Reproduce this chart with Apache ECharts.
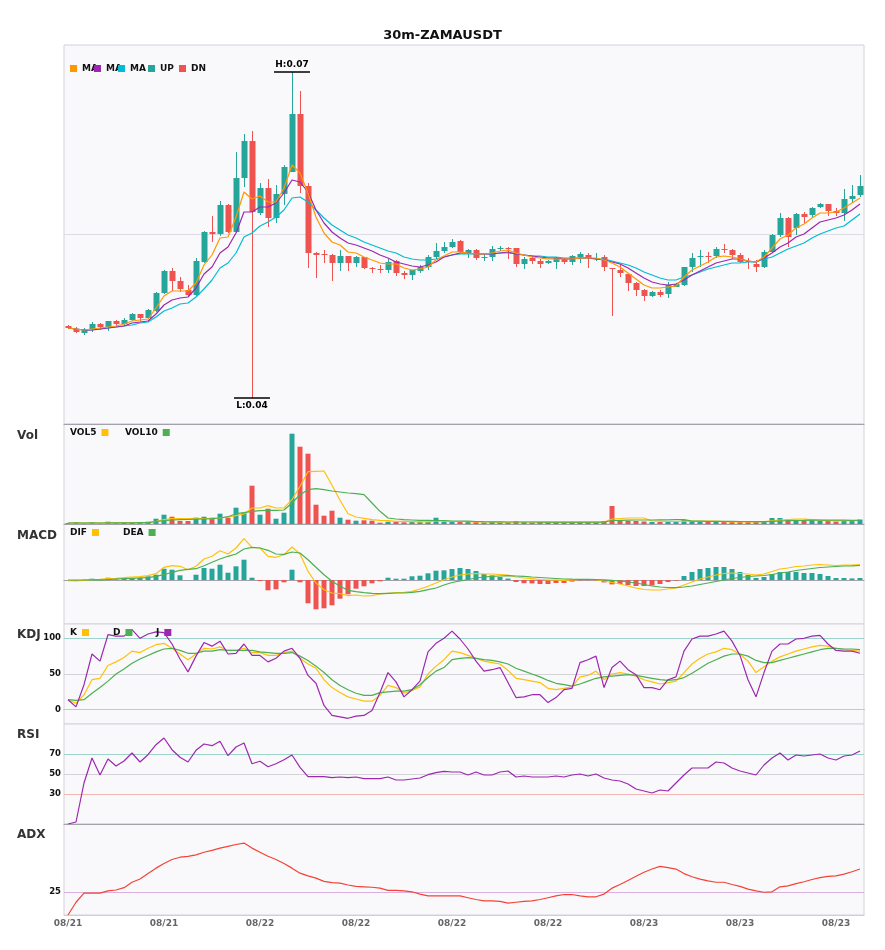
<!DOCTYPE html>
<html><head><meta charset="utf-8">
<script src="https://cdn.jsdelivr.net/npm/echarts@6/dist/echarts.min.js"></script>
<style>html,body{margin:0;padding:0;background:#fff}#c{width:885px;height:950px}</style>
</head><body><div id="c"></div>
<script>
const categories = [
'08/21 14:00','08/21 14:30','08/21 15:00','08/21 15:30','08/21 16:00','08/21 16:30','08/21 17:00','08/21 17:30','08/21 18:00','08/21 18:30',
'08/21 19:00','08/21 19:30','08/21 20:00','08/21 20:30','08/21 21:00','08/21 21:30','08/21 22:00','08/21 22:30','08/21 23:00','08/21 23:30',
'08/22 00:00','08/22 00:30','08/22 01:00','08/22 01:30','08/22 02:00','08/22 02:30','08/22 03:00','08/22 03:30','08/22 04:00','08/22 04:30',
'08/22 05:00','08/22 05:30','08/22 06:00','08/22 06:30','08/22 07:00','08/22 07:30','08/22 08:00','08/22 08:30','08/22 09:00','08/22 09:30',
'08/22 10:00','08/22 10:30','08/22 11:00','08/22 11:30','08/22 12:00','08/22 12:30','08/22 13:00','08/22 13:30','08/22 14:00','08/22 14:30',
'08/22 15:00','08/22 15:30','08/22 16:00','08/22 16:30','08/22 17:00','08/22 17:30','08/22 18:00','08/22 18:30','08/22 19:00','08/22 19:30',
'08/22 20:00','08/22 20:30','08/22 21:00','08/22 21:30','08/22 22:00','08/22 22:30','08/22 23:00','08/22 23:30','08/23 00:00','08/23 00:30',
'08/23 01:00','08/23 01:30','08/23 02:00','08/23 02:30','08/23 03:00','08/23 03:30','08/23 04:00','08/23 04:30','08/23 05:00','08/23 05:30',
'08/23 06:00','08/23 06:30','08/23 07:00','08/23 07:30','08/23 08:00','08/23 08:30','08/23 09:00','08/23 09:30','08/23 10:00','08/23 10:30',
'08/23 11:00','08/23 11:30','08/23 12:00','08/23 12:30','08/23 13:00','08/23 13:30','08/23 14:00','08/23 14:30','08/23 15:00','08/23 15:30'];

const open = [
0.0472,0.0469,0.0465,0.0469,0.0474,0.0471,0.0477,0.0474,0.0478,0.0484,
0.0480,0.0487,0.0505,0.0527,0.0517,0.0508,0.0503,0.0536,0.0566,0.0564,
0.0593,0.0566,0.0620,0.0657,0.0585,0.0610,0.0580,0.0604,0.0626,0.0684,
0.0612,0.0545,0.0544,0.0543,0.0535,0.0542,0.0535,0.0541,0.0530,0.0529,
0.0528,0.0537,0.0525,0.0523,0.0527,0.0531,0.0541,0.0547,0.0551,0.0557,
0.0545,0.0548,0.0540,0.0541,0.0549,0.0550,0.0550,0.0534,0.0540,0.0537,
0.0535,0.0536,0.0539,0.0536,0.0541,0.0543,0.0539,0.0541,0.0530,0.0528,
0.0524,0.0515,0.0508,0.0502,0.0506,0.0504,0.0511,0.0513,0.0531,0.0541,
0.0542,0.0542,0.0549,0.0548,0.0543,0.0537,0.0534,0.0531,0.0546,0.0563,
0.0580,0.0570,0.0584,0.0583,0.0591,0.0594,0.0587,0.0585,0.0599,0.0603];
const high = [
0.0473,0.0471,0.0470,0.0476,0.0475,0.0477,0.0478,0.0480,0.0485,0.0484,
0.0489,0.0506,0.0528,0.0530,0.0521,0.0513,0.0540,0.0567,0.0582,0.0597,
0.0594,0.0646,0.0664,0.0667,0.0615,0.0619,0.0613,0.0633,0.0726,0.0707,
0.0615,0.0546,0.0548,0.0544,0.0548,0.0542,0.0542,0.0541,0.0531,0.0533,
0.0539,0.0538,0.0527,0.0528,0.0533,0.0543,0.0555,0.0556,0.0559,0.0558,
0.0549,0.0549,0.0544,0.0552,0.0552,0.0551,0.0550,0.0541,0.0542,0.0539,
0.0538,0.0541,0.0540,0.0543,0.0546,0.0545,0.0545,0.0543,0.0530,0.0534,
0.0525,0.0516,0.0509,0.0507,0.0508,0.0516,0.0515,0.0531,0.0545,0.0548,
0.0546,0.0551,0.0554,0.0549,0.0545,0.0540,0.0538,0.0548,0.0564,0.0585,
0.0581,0.0585,0.0586,0.0591,0.0595,0.0594,0.0590,0.0609,0.0613,0.0623];
const low = [
0.0469,0.0465,0.0463,0.0466,0.0468,0.0467,0.0472,0.0473,0.0477,0.0477,
0.0479,0.0486,0.0504,0.0507,0.0506,0.0502,0.0502,0.0535,0.0556,0.0562,
0.0565,0.0565,0.0611,0.0400,0.0583,0.0571,0.0575,0.0593,0.0626,0.0605,
0.0530,0.0520,0.0535,0.0517,0.0527,0.0527,0.0531,0.0529,0.0525,0.0525,
0.0525,0.0522,0.0519,0.0518,0.0525,0.0528,0.0539,0.0545,0.0550,0.0545,
0.0540,0.0538,0.0537,0.0537,0.0547,0.0539,0.0531,0.0529,0.0534,0.0530,
0.0534,0.0529,0.0534,0.0533,0.0535,0.0530,0.0537,0.0527,0.0482,0.0521,
0.0507,0.0502,0.0497,0.0501,0.0501,0.0500,0.0511,0.0512,0.0526,0.0531,
0.0535,0.0540,0.0545,0.0539,0.0535,0.0529,0.0526,0.0530,0.0545,0.0561,
0.0551,0.0563,0.0575,0.0581,0.0590,0.0582,0.0582,0.0577,0.0595,0.0601];
const close = [
0.0470,0.0466,0.0469,0.0474,0.0471,0.0477,0.0474,0.0478,0.0484,0.0480,
0.0488,0.0505,0.0527,0.0517,0.0509,0.0503,0.0537,0.0566,0.0564,0.0593,
0.0566,0.0620,0.0657,0.0586,0.0610,0.0580,0.0604,0.0631,0.0684,0.0612,
0.0545,0.0543,0.0543,0.0535,0.0542,0.0535,0.0541,0.0530,0.0529,0.0528,
0.0536,0.0525,0.0523,0.0528,0.0531,0.0541,0.0547,0.0551,0.0556,0.0546,
0.0548,0.0540,0.0541,0.0549,0.0550,0.0549,0.0534,0.0539,0.0537,0.0534,
0.0537,0.0540,0.0536,0.0542,0.0544,0.0540,0.0540,0.0531,0.0529,0.0525,
0.0515,0.0508,0.0502,0.0506,0.0503,0.0513,0.0514,0.0531,0.0540,0.0542,
0.0541,0.0549,0.0548,0.0543,0.0536,0.0536,0.0531,0.0546,0.0563,0.0580,
0.0561,0.0584,0.0581,0.0590,0.0594,0.0587,0.0585,0.0599,0.0602,0.0612];

const ma5 = [
0.0470,0.0469,0.0468,0.0469,0.0470,0.0471,0.0472,0.0474,0.0477,0.0478,
0.0479,0.0490,0.0502,0.0507,0.0507,0.0507,0.0515,0.0533,0.0543,0.0560,
0.0561,0.0581,0.0606,0.0599,0.0602,0.0596,0.0596,0.0610,0.0633,0.0625,
0.0605,0.0581,0.0565,0.0556,0.0553,0.0546,0.0545,0.0541,0.0538,0.0535,
0.0534,0.0534,0.0530,0.0528,0.0529,0.0531,0.0538,0.0542,0.0546,0.0546,
0.0545,0.0544,0.0544,0.0545,0.0547,0.0548,0.0545,0.0543,0.0541,0.0540,
0.0539,0.0539,0.0539,0.0539,0.0540,0.0540,0.0540,0.0538,0.0535,0.0531,
0.0525,0.0519,0.0513,0.0510,0.0510,0.0511,0.0512,0.0521,0.0528,0.0532,
0.0536,0.0541,0.0542,0.0541,0.0539,0.0537,0.0536,0.0541,0.0550,0.0559,
0.0563,0.0570,0.0574,0.0580,0.0585,0.0585,0.0586,0.0590,0.0595,0.0600];
const ma10 = [
0.0470,0.0469,0.0468,0.0468,0.0469,0.0470,0.0471,0.0472,0.0475,0.0476,
0.0477,0.0484,0.0493,0.0498,0.0500,0.0501,0.0510,0.0524,0.0531,0.0545,
0.0551,0.0565,0.0586,0.0586,0.0591,0.0591,0.0595,0.0605,0.0618,0.0616,
0.0606,0.0588,0.0575,0.0566,0.0560,0.0555,0.0553,0.0550,0.0547,0.0543,
0.0540,0.0536,0.0534,0.0532,0.0531,0.0533,0.0536,0.0541,0.0543,0.0545,
0.0545,0.0544,0.0544,0.0544,0.0545,0.0546,0.0544,0.0543,0.0542,0.0541,
0.0540,0.0540,0.0539,0.0539,0.0540,0.0540,0.0539,0.0538,0.0536,0.0534,
0.0530,0.0525,0.0520,0.0516,0.0514,0.0513,0.0514,0.0518,0.0523,0.0527,
0.0531,0.0535,0.0537,0.0539,0.0539,0.0537,0.0536,0.0540,0.0545,0.0551,
0.0555,0.0561,0.0564,0.0570,0.0576,0.0578,0.0580,0.0583,0.0588,0.0594];
const ma20 = [
0.0470,0.0469,0.0468,0.0468,0.0469,0.0470,0.0471,0.0472,0.0473,0.0475,
0.0476,0.0481,0.0487,0.0490,0.0494,0.0495,0.0501,0.0509,0.0518,0.0530,
0.0535,0.0545,0.0561,0.0565,0.0572,0.0576,0.0581,0.0588,0.0600,0.0601,
0.0596,0.0588,0.0580,0.0573,0.0568,0.0563,0.0560,0.0556,0.0553,0.0550,
0.0547,0.0545,0.0541,0.0539,0.0538,0.0538,0.0539,0.0541,0.0543,0.0544,
0.0544,0.0544,0.0544,0.0544,0.0545,0.0545,0.0544,0.0543,0.0542,0.0542,
0.0541,0.0541,0.0540,0.0540,0.0540,0.0540,0.0539,0.0539,0.0537,0.0535,
0.0533,0.0530,0.0526,0.0523,0.0520,0.0518,0.0518,0.0521,0.0523,0.0526,
0.0529,0.0531,0.0533,0.0535,0.0535,0.0536,0.0536,0.0539,0.0541,0.0545,
0.0549,0.0552,0.0555,0.0560,0.0564,0.0567,0.0570,0.0572,0.0578,0.0584];

const volume = [
1,1.3,0.7,1.3,0.7,2.3,1,1,1.3,1,
2.3,5.3,9.3,7.3,3,3,6.3,7.3,6.3,10.3,
6.3,16.3,11.3,38.3,9.3,15.3,5.3,11.3,90.3,77.3,
70.3,19.3,8.3,13.3,6.3,4.3,3.3,3.7,3.3,1.3,
2.3,2.3,1.7,2.3,2.3,2.3,6.3,2.3,2,3,
2,2,1.5,2,1.5,1.5,3,2,1.5,2,
1.5,2,1.5,2,2,2,1.5,3,18,4,
3,3,2.5,2,2,3,2,4,3,2.5,
2,2.5,2,2,2.5,2,2,3,6,6,
5,4,3,4,3,3,2.5,4,4,4.5];
const vol5 = [
1,1.1,1,1.1,1,1.3,1.2,1.3,1.3,1.3,
1.4,2.7,4.3,5.3,5.3,5.3,5.7,5.5,5.3,6,
7,8.3,10,16,16,18.3,16,16,24.3,37.7,
52.3,52.7,53,38.7,23.7,10.3,7,5.7,4.3,3.7,
3.3,2.7,2.6,2.4,2.2,2.2,3,3.1,2.5,2.5,
2.3,2.2,2,2,1.8,1.8,2,2,2,2,
1.8,1.8,1.8,1.8,1.8,1.8,1.8,2,5,5.5,
6,6,6,3,2.8,2.5,2.5,2.8,2.8,3,
2.8,2.8,2.4,2.2,2.2,2.2,2.2,2.3,3.1,3.8,
4.4,4.8,4.8,4.4,3.8,3.4,3.1,3.3,3.3,3.6];
const vol10 = [
1,1.1,1,1.1,1,1.2,1.2,1.2,1.2,1.3,
1.4,2.5,3.3,4,4.3,4.5,4.8,5,5.3,6,
7.3,10.3,11.3,12.7,13.3,13.7,13.7,14,21,29.3,
34.3,35.3,34.3,33,32,31,30.3,29.3,21,12.7,
6,5,4.3,4,3.7,3.7,3.5,3.3,3,3,
2.8,2.5,2.3,2.2,2.1,2,2,2,2,1.9,
1.9,1.9,1.9,1.9,1.8,1.8,1.8,1.9,3.5,3.7,
3.9,4,4,4,4.1,4.2,4.3,4.4,2.9,2.8,
2.6,2.7,2.6,2.6,2.5,2.5,2.3,2.3,2.6,3,
3.3,3.5,3.6,3.8,3.8,3.9,3.9,3.9,3.6,3.6];

const dif = [
-0.7,-1,-0.3,0.3,0.7,1.3,1.7,2.3,3,3.3,
4.3,6.3,12.7,14.3,13.7,10.3,13.7,21,23.7,29.3,
26,32,41.3,32.7,32,23.7,22.7,25.3,33,26,
8.7,-3,-9.7,-13,-13.7,-15.7,-15,-16,-15.7,-14,
-13.3,-12.7,-12.3,-11.3,-9,-6.3,-3,0.3,3,5,
6,6.5,6,6,5.5,5,3,2,1.3,0.5,
0,0,-0.5,0,0.5,0.5,0.3,-1,-2.5,-4,
-6,-8,-9.5,-10,-10,-9,-8,-5,-2,1,
3,5,6.5,7,6.5,6,5,6,8.5,11,
12,13.5,14,15,15.5,15,14.5,15,15,15.5];
const dea = [
0,0,0,0.1,0.2,0.4,1,1.3,1.7,2,
2.3,3.7,5.3,7.7,9.7,10.7,11.3,14.3,17.7,21,
23.7,26,31,32.7,32,29.7,26,25.7,28,27,
20.3,12.7,5.3,-1.3,-6.3,-10.3,-11.7,-12.7,-13.3,-13.7,
-13.3,-13,-13,-12.3,-11.3,-9.7,-8,-5,-2.5,-1,
0.5,2,3,3.7,4,4.3,4,3.6,3,2.5,
2,1.5,1,0.8,0.7,0.6,0.5,0.2,-0.3,-1,
-2,-3,-4.5,-6,-7,-7.5,-7.7,-7,-6,-4.5,
-3,-1.5,0,1.5,2.5,3.5,4,4.5,5.5,7,
8,9.5,10.5,11.5,12.5,13,13.5,14,14.2,14.5];
const macdHist = [
0,-0.3,0.3,1.3,0.3,2.3,0.7,1.7,2,2.3,
3.7,5.3,11.3,10.3,4.7,0,5.3,12,11.3,15.3,
7.3,13.7,20.3,2.3,-1,-10.3,-9.3,-2.3,10.3,-2.3,
-23.3,-29.3,-28.3,-25.3,-18.7,-14.3,-8.7,-6.3,-3.3,-1.3,
2.3,1.3,1.3,3.7,4.3,6.7,9.3,9.7,11,12,
11,9,6,4.6,3,1.4,-2,-3.2,-3.4,-4,
-4,-3,-3,-1.6,-0.4,-0.2,-0.4,-2.4,-4.4,-4,
-5,-6,-6,-5.5,-4,-2,-0.6,4,8,11,
12,13,13,11,8,5,2,3,6,8,
8,8,7,7,6,4,2,2,1.6,2];

const kLine = [
14,9,21,42,44,62,67,73,82,80,
86,91,93,86,78,70,78,86,85,88,
83,83,86,80,80,76,76,80,82,72,
64,58,42,31,24,18,15,12,12,20,
34,31,23,27,32,50,61,70,82,80,
76,72,68,66,64,55,44,42,40,38,
30,28,30,32,46,48,54,42,50,52,
50,47,42,39,36,38,40,52,64,72,
78,81,86,84,78,68,52,60,68,74,
78,82,85,88,90,89,86,84,83,82];
const dLine = [
14,13,14,23,31,40,50,57,65,71,
76,81,85,86,83,79,79,82,82,84,
83,83,83,83,81,80,79,79,80,75,
69,61,52,42,34,28,23,20,20,24,
25,26,26,28,35,45,54,59,70,72,
73,72,70,69,67,64,58,54,50,46,
41,37,35,33,36,40,44,46,47,48,
49,48,46,44,42,41,42,45,51,58,
65,70,75,78,78,75,69,66,66,69,
72,75,78,81,84,86,86,85,85,84];
const jLine = [
14,4,35,78,68,105,103,103,112,100,
106,109,108,92,71,53,75,94,89,96,
78,79,92,76,76,67,72,82,86,72,
48,37,6,-8,-10,-12,-9,-8,-1,24,
52,39,18,28,40,81,93,100,110,99,
85,68,54,56,59,38,17,18,21,21,
10,17,28,30,66,70,75,31,59,68,
56,49,31,31,28,42,46,82,99,103,
103,106,110,96,76,42,18,52,82,92,
92,99,100,103,104,92,83,82,82,79];

const rsi = [
0,2,41,66,49,65,58,63,71,62,
69.3,79.3,86,74.3,66.7,62,73.7,80,78.3,82.7,
68.3,77,81,60.3,62.7,57.3,60.3,64.3,69,56.7,
47.3,47.3,47.3,46.3,47,46.3,47,45.3,45.3,45.3,
47,44,44,45,46,49.3,51.3,52.7,52,52,
49,52,49,49,52,53,47,48,47,47,
47,48,47,49,50,48,50,46,44,43,
40,35,33,31,34,33,41,49,56,56,
56,62,61,56,53,51,49,59,66,71,
64,69,68,69,70,66,64,68,69,73];

const adx = [
20,22.8,24.8,24.8,24.8,25.3,25.5,26,27.2,27.9,
29.1,30.3,31.3,32.2,32.7,32.9,33.2,33.8,34.2,34.7,
35.1,35.5,35.8,34.7,33.8,32.9,32.2,31.3,30.3,29.2,
28.6,28.1,27.4,27.1,27,26.6,26.3,26.2,26.1,25.9,
25.4,25.4,25.3,25.1,24.6,24.2,24.2,24.2,24.2,24.2,
23.8,23.4,23.1,23.1,23,22.6,22.8,23,23.1,23.4,
23.8,24.2,24.5,24.5,24.2,24,24,24.6,25.9,26.7,
27.6,28.5,29.4,30.1,30.7,30.4,30.1,29.1,28.4,27.9,
27.5,27.2,27.2,26.7,26.3,25.7,25.3,25,25.1,26.2,
26.4,26.9,27.3,27.8,28.2,28.5,28.6,29,29.5,30.1];

const kdjTicks = [0, 50, 100];
const rsiTicks = [30, 50, 70];
const adxTicks = [25];

const FONT = 'DejaVu Sans';
const UPC = '#26a69a', DNC = '#ef5350';
const PRICE_MIN = 0.0374, PRICE_MAX = 0.0753;

const isUp = open.map((o, i) => close[i] >= o);
const candleRows = open.map((o, i) => [i, o, close[i], low[i], high[i]]);
const upRows = candleRows.filter((r, i) => isUp[i]);
const dnRows = candleRows.filter((r, i) => !isUp[i]);

function renderCandle(params, api) {
  const idx = api.value(0);
  const o = api.value(1), c = api.value(2), l = api.value(3), h = api.value(4);
  const pO = api.coord([idx, o]), pC = api.coord([idx, c]);
  const pL = api.coord([idx, l]), pH = api.coord([idx, h]);
  const color = api.visual('color');
  const cx = Math.round(pO[0]);
  const w = 6;
  const top = Math.min(pO[1], pC[1]);
  const bot = Math.max(pO[1], pC[1]);
  return {
    type: 'group',
    children: [
      { type: 'line', shape: { x1: cx + 0.5, y1: pH[1], x2: cx + 0.5, y2: pL[1] }, style: { stroke: color, lineWidth: 1 } },
      { type: 'rect', shape: { x: cx - w / 2 + 0.5, y: top, width: w, height: Math.max(bot - top, 1) }, style: { fill: color } }
    ]
  };
}

const gridDefs = [[45, 379], [424, 100], [524, 100], [624, 100], [724, 100], [824, 91]];
const grid = gridDefs.map(g => ({
  left: 64, right: 21, top: g[0], height: g[1], show: true,
  backgroundColor: '#f9f9fb', borderColor: '#d2d2da', borderWidth: 1
}));

const xAxis = gridDefs.map((g, i) => ({
  type: 'category', gridIndex: i, data: categories, boundaryGap: true,
  axisTick: { show: false },
  axisLine: { show: true, lineStyle: { color: i < 5 ? '#a2a2aa' : '#cfcfd8', width: 1 } },
  splitLine: { show: false },
  axisLabel: i === 5 ? {
    show: true, interval: 11, margin: 4, fontSize: 9, fontWeight: 'bold', color: '#666', fontFamily: FONT,
    formatter: v => v.slice(0, 5)
  } : { show: false }
}));

const hiddenY = (gi, min, max) => ({
  type: 'value', gridIndex: gi, min: min, max: max,
  axisLabel: { show: false }, axisTick: { show: false }, axisLine: { show: false }, splitLine: { show: false }
});
const labelY = (gi, min, max, interval, ticks) => ({
  type: 'value', gridIndex: gi, min: min, max: max, interval: interval,
  axisTick: { show: false }, axisLine: { show: false }, splitLine: { show: false },
  axisLabel: {
    show: true, margin: 3, fontSize: 8.5, fontWeight: 'bold', color: '#111', fontFamily: FONT,
    formatter: v => ticks.indexOf(Math.round(v * 1000) / 1000) >= 0 ? String(Math.round(v)) : ''
  }
});
const yAxis = [
  hiddenY(0, PRICE_MIN, PRICE_MAX),
  hiddenY(1, 0, 100),
  hiddenY(2, -44, 56),
  labelY(3, -20, 120, 10, kdjTicks),
  labelY(4, 0, 100, 10, rsiTicks),
  labelY(5, 20, 40, 5, adxTicks)
];

const line = (name, data, color, xi) => ({
  name: name, type: 'line', data: data, xAxisIndex: xi, yAxisIndex: xi,
  symbol: 'none', smooth: false, lineStyle: { color: color, width: 1.2 }, itemStyle: { color: color }
});
const refLines = (vals, colors) => ({
  silent: true, symbol: 'none', z: 1, precision: 8, label: { show: false }, animation: false,
  lineStyle: { type: 'solid', width: 1 },
  data: vals.map((v, k) => ({ yAxis: v, lineStyle: { color: colors[k], type: 'solid', width: 1 } }))
});

const legendBase = {
  icon: 'rect', itemWidth: 7, itemHeight: 7, padding: 0, itemGap: 0, selectedMode: false,
  textStyle: { fontSize: 9, fontWeight: 'bold', color: '#111', fontFamily: FONT }
};
const lg = (name, left, top, extra) => Object.assign({}, legendBase, { data: [name], left: left, top: top }, extra || {});
const legend = [
  lg('MA5', 70, 64, { formatter: 'MA' }),
  lg('MA10', 94, 64, { formatter: 'MA' }),
  lg('MA20', 118, 64, { formatter: 'MA' }),
  lg('UP', 148, 64),
  lg('DN', 179, 64),
  lg('VOL5', 70, 428, { align: 'right' }),
  lg('VOL10', 125, 428, { align: 'right' }),
  lg('DIF', 70, 528, { align: 'right' }),
  lg('DEA', 123, 528, { align: 'right' }),
  lg('K', 70, 628, { align: 'right' }),
  lg('D', 113, 628, { align: 'right' }),
  lg('J', 156, 628, { align: 'right' })
];

const subTitle = (text, top) => ({
  text: text, left: 17, top: top, padding: 0,
  textStyle: { fontSize: 12, fontWeight: 'bold', color: '#333', fontFamily: FONT }
});

const candleSeries = (name, rows, color, mark) => ({
  name: name, type: 'custom', xAxisIndex: 0, yAxisIndex: 0, data: rows,
  dimensions: ['idx', 'open', 'close', 'lowest', 'highest'],
  encode: { x: 0, y: [1, 2, 3, 4] },
  itemStyle: { color: color },
  renderItem: renderCandle,
  clip: true,
  markPoint: mark
});
const hlMark = (type, dim, pos, prefix) => ({
  symbol: 'rect', symbolSize: [36, 1.5], itemStyle: { color: '#000' },
  label: { show: true, position: pos, distance: 2, fontSize: 9, fontWeight: 'bold', color: '#000', fontFamily: FONT,
    formatter: p => prefix + Number(p.value).toFixed(2) },
  data: [{ type: type, valueDim: dim }]
});

const option = {
  animation: false,
  backgroundColor: '#ffffff',
  textStyle: { fontFamily: FONT },
  title: [
    { text: '30m-ZAMAUSDT', left: 'center', top: 29, padding: 0, textStyle: { fontSize: 13, fontWeight: 'bold', color: '#111', fontFamily: FONT } },
    subTitle('Vol', 430), subTitle('MACD', 530), subTitle('KDJ', 629), subTitle('RSI', 729), subTitle('ADX', 829)
  ],
  legend: legend,
  grid: grid,
  xAxis: xAxis,
  yAxis: yAxis,
  series: [
    candleSeries('UP', upRows, UPC, hlMark('max', 'highest', 'top', 'H:')),
    candleSeries('DN', dnRows, DNC, hlMark('min', 'lowest', 'bottom', 'L:')),
    Object.assign(line('MA20', ma20, '#00bcd4', 0), { markLine: refLines([(PRICE_MIN + PRICE_MAX) / 2], ['#dcdce3']) }),
    line('MA10', ma10, '#9c27b0', 0),
    line('MA5', ma5, '#ff9800', 0),
    {
      name: 'Volume', type: 'bar', xAxisIndex: 1, yAxisIndex: 1, data: volume, barWidth: 5,
      itemStyle: { color: p => isUp[p.dataIndex] ? UPC : DNC }
    },
    line('VOL5', vol5, '#ffc107', 1),
    line('VOL10', vol10, '#4caf50', 1),
    {
      name: 'MACD', type: 'bar', xAxisIndex: 2, yAxisIndex: 2, data: macdHist, barWidth: 5,
      itemStyle: { color: p => p.value >= 0 ? UPC : DNC }
    },
    line('DIF', dif, '#ffc107', 2),
    line('DEA', dea, '#4caf50', 2),
    Object.assign(line('K', kLine, '#ffc107', 3), { markLine: refLines([100, 50, 0], ['#9ed3cc', '#d2d2d8', '#f4b4b4']) }),
    line('D', dLine, '#4caf50', 3),
    line('J', jLine, '#9c27b0', 3),
    Object.assign(line('RSI', rsi, '#9c27b0', 4), { markLine: refLines([70, 50, 30], ['#9ed3cc', '#d2d2d8', '#f4b4b4']) }),
    Object.assign(line('ADX', adx, '#f44336', 5), { markLine: refLines([25], ['#d9b0de']) })
  ]
};

const chart = echarts.init(document.getElementById('c'), null, { renderer: 'canvas' });
chart.setOption(option);
</script>
</body></html>
